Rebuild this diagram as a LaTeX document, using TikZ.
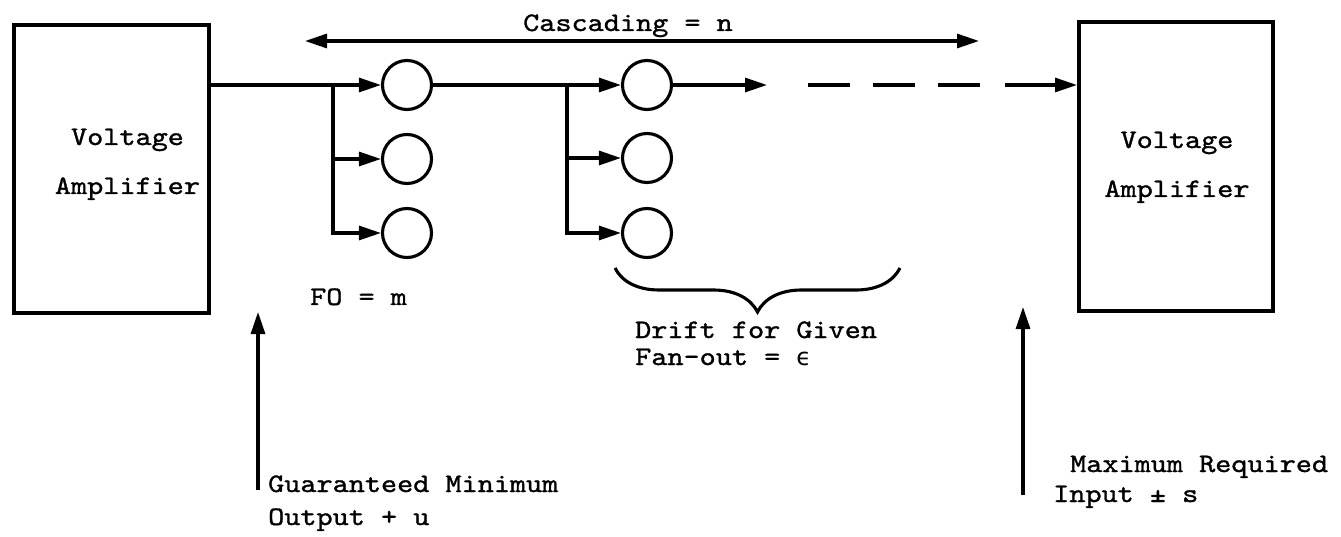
\documentclass[tikz,border=0pt]{standalone}
\usepackage{fontspec}
\newfontfamily\tw{lmmono10-regular.otf}[FakeStretch=1.15,FakeBold=1.2]
\newfontfamily\symf{DejaVu Sans}
\usetikzlibrary{arrows.meta,decorations.pathreplacing}

\begin{document}
\begin{tikzpicture}[x=1pt,y=-1pt,
  wire/.style={line width=3.1pt},
  head/.style={-{Triangle[length=22pt,width=14pt]}},
  twohead/.style={{Triangle[length=22pt,width=14pt]}-{Triangle[length=22pt,width=14pt]}},
  ampbox/.style={draw,line width=3.6pt,inner sep=0pt},
  gate/.style={draw,circle,line width=3.1pt,minimum size=49pt,inner sep=0pt},
  lbl/.style={font=\tw\fontsize{26.7}{32}\selectfont,inner sep=0pt},
]
\useasboundingbox (0,0) rectangle (1341,537);

% amplifier blocks
\node[ampbox,minimum width=195.4pt,minimum height=288.4pt] (ampL) at (111.5,169) {};
\node[ampbox,minimum width=194.4pt,minimum height=289.4pt] (ampR) at (1176,166.5) {};
\node[lbl,anchor=base] (ampL1) at (127.5,145) {Voltage};
\node[lbl,anchor=base] (ampL2) at (127.5,194) {Amplifier};
\node[lbl,anchor=base] (ampR1) at (1177,148) {Voltage};
\node[lbl,anchor=base] (ampR2) at (1177,197) {Amplifier};

% first fan-out stage
\node[gate] (c11) at (407,85) {};
\node[gate] (c12) at (407,159) {};
\node[gate] (c13) at (407,233) {};
% second fan-out stage
\node[gate] (c21) at (647,85) {};
\node[gate] (c22) at (647,158) {};
\node[gate] (c23) at (647,233) {};

\coordinate (b1) at (333,85);
\coordinate (b2) at (567,85);

\draw[wire,head] (c11 -| ampL.east) -- (c11.west);
\draw[wire,head] (b1) |- (c13.west);
\draw[wire,head] (b1 |- c12) -- (c12.west);

\draw[wire,head] (c11.east) -- (c21.west);
\draw[wire,head] (b2) |- (c23.west);
\draw[wire,head] (b2 |- c22) -- (c22.west);

% continuation of the chain
\coordinate (t1) at (767,85);
\coordinate (d1) at (808,85);
\coordinate (d2) at (980,85);
\coordinate (d3) at (1005,85);
\draw[wire,head] (c21.east) -- (t1);
\draw[wire,dash pattern=on 42pt off 23pt] (d1) -- (d2);
\draw[wire,head] (d3) -- (d3 -| ampR.west);

% cascading span
\coordinate (ca1) at (305,41);
\coordinate (ca2) at (979,41);
\draw[wire,twohead] (ca1) -- (ca2);
\node[lbl,anchor=base] (casc) at (628,31) {Cascading = n};

\node[lbl,anchor=base west] (fo) at (310,305) {FO = m};

% drift brace
\coordinate (brL) at (615,268);
\coordinate (brR) at (900,268);
\draw[wire,decorate,decoration={brace,amplitude=44pt}] (brR) -- (brL);
\node[lbl,anchor=base west] (drift1) at (635,338) {Drift for Given};
\node[lbl,anchor=base west] (drift2) at (635,365) {Fan-out = {\symf\fontsize{24}{28}\selectfont ϵ}};

% level markers
\coordinate (uL0) at (258,490);
\coordinate (uL1) at (258,312);
\draw[wire,head] (uL0) -- (uL1);
\node[lbl,anchor=base west] (gm1) at (268,492) {Guaranteed Minimum};
\node[lbl,anchor=base west] (gm2) at (268,525) {Output + u};

\coordinate (uR0) at (1023,495);
\coordinate (uR1) at (1023,307);
\draw[wire,head] (uR0) -- (uR1);
\node[lbl,anchor=base west] (mr1) at (1070,472) {Maximum Required};
\node[lbl,anchor=base west] (mr2) at (1053,502) {Input ± s};
\end{tikzpicture}
\end{document}
